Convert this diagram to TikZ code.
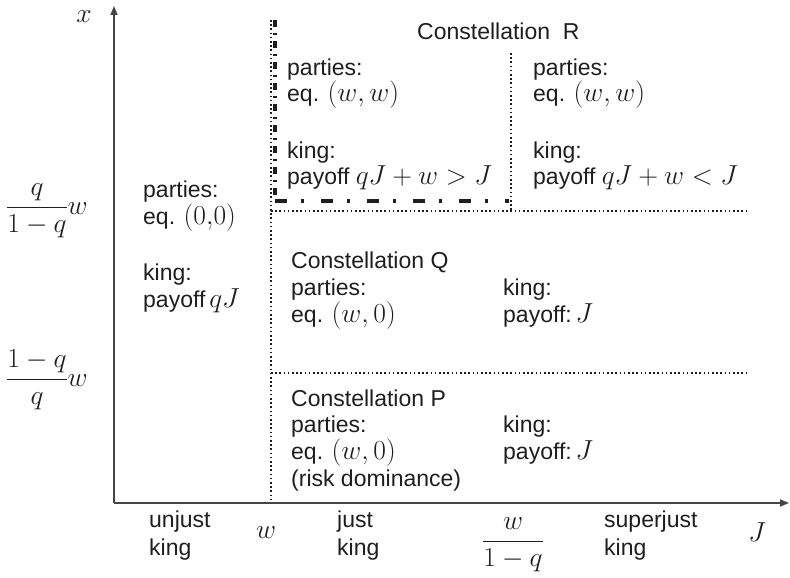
\RequirePackage{fix-cm}
\documentclass[tikz,border=0pt]{standalone}
\usepackage{amsmath}
\usepackage[no-math]{fontspec}
\setmainfont{Liberation Sans}
\DeclareMathSizes{23}{27.5}{19}{14}
\usetikzlibrary{arrows.meta}
\definecolor{ink}{HTML}{1E1E1E}
\definecolor{axisc}{HTML}{454545}
\begin{document}
\begin{tikzpicture}[x=1pt,y=-1pt,
  lbl/.style={anchor=base west, inner sep=0pt, text=ink, font=\fontsize{23}{27}\selectfont},
  mlbl/.style={anchor=base, inner sep=0pt, text=ink, font=\fontsize{23}{27}\selectfont},
  axisline/.style={draw=axisc, line width=1.6pt, -{Triangle[length=9pt,width=7pt]}},
  dotline/.style={draw=ink, line width=2pt, dash pattern=on 1.6pt off 2.6pt},
  dashdotv/.style={draw=ink, line width=3.5pt, dash pattern=on 7pt off 6pt on 2pt off 6pt},
  dashdoth/.style={draw=ink, line width=3.5pt, dash pattern=on 12pt off 14pt on 3pt off 17pt}]
\useasboundingbox (0,0) rectangle (790,578);

% coordinates
\coordinate (O) at (114,503);
\coordinate (Ytip) at (114,6);
\coordinate (Xtip) at (789,503);
\coordinate (V1top) at (271,20);
\coordinate (V1bot) at (271,503);
\coordinate (H1l) at (271,211);
\coordinate (H1r) at (748,211);
\coordinate (H2l) at (271,373);
\coordinate (H2r) at (748,373);
\coordinate (V2top) at (511,53);
\coordinate (V2bot) at (511,211);
\coordinate (DVtop) at (275,20);
\coordinate (DVbot) at (275,201);
\coordinate (DHr) at (509,201);

% axes
\draw[axisline] (O) -- (Ytip);
\draw[axisline] (O) -- (Xtip);

% dotted lines
\draw[dotline] (V1top) -- (V1bot);
\draw[dotline] (H1l) -- (H1r);
\draw[dotline] (H2l) -- (H2r);
\draw[dotline] (V2top) -- (V2bot);

% dash-dot border
\draw[dashdotv] (DVtop) -- (DVbot);
\draw[dashdoth] (DVbot) -- (DHr);

% axis labels
\node[mlbl] (xlab) at (84,23) {$x$};
\node[lbl] (frac1) at (6,214) {$\dfrac{q}{1-q}w$};
\node[lbl] (frac2) at (6,386) {$\dfrac{1-q}{q}w$};

% left column
\node[lbl] (l1) at (143,197) {parties:};
\node[lbl] (l2) at (143,224) {eq. $(0{,}0)$};
\node[lbl] (l3) at (143,280) {king:};
\node[lbl] (l4) at (143,307) {payoff\,$qJ$};

% constellation R
\node[lbl] (rh) at (417,40) {Constellation\ \ R};
\node[lbl] (ra1) at (287,75) {parties:};
\node[lbl] (ra2) at (287,101) {eq. $(w,w)$};
\node[lbl] (ra3) at (287,158) {king:};
\node[lbl] (ra4) at (287,184) {payoff $qJ+w>J$};
\node[lbl] (rb1) at (533,75) {parties:};
\node[lbl] (rb2) at (533,101) {eq. $(w,w)$};
\node[lbl] (rb3) at (533,158) {king:};
\node[lbl] (rb4) at (533,184) {payoff $qJ+w<J$};

% constellation Q
\node[lbl] (qh) at (291,268) {Constellation Q};
\node[lbl] (qa1) at (291,295) {parties:};
\node[lbl] (qa2) at (291,322) {eq. $(w,0)$};
\node[lbl] (qb1) at (503,295) {king:};
\node[lbl] (qb2) at (503,322) {payoff:\,$J$};

% constellation P
\node[lbl] (ph) at (291,406) {Constellation P};
\node[lbl] (pa1) at (291,432) {parties:};
\node[lbl] (pa2) at (291,459) {eq. $(w,0)$};
\node[lbl] (pa3) at (291,486) {(risk dominance)};
\node[lbl] (pb1) at (503,432) {king:};
\node[lbl] (pb2) at (503,459) {payoff:\,$J$};

% bottom labels
\node[lbl] (b1) at (149,527) {unjust};
\node[lbl] (b2) at (149,555) {king};
\node[mlbl] (bw) at (266,538) {$w$};
\node[lbl] (b3) at (337,527) {just};
\node[lbl] (b4) at (337,555) {king};
\node[mlbl] (bfrac) at (513,548) {$\dfrac{w}{1-q}$};
\node[lbl] (b5) at (604,527) {superjust};
\node[lbl] (b6) at (604,555) {king};
\node[mlbl] (bJ) at (757,541) {$J$};
\end{tikzpicture}
\end{document}
